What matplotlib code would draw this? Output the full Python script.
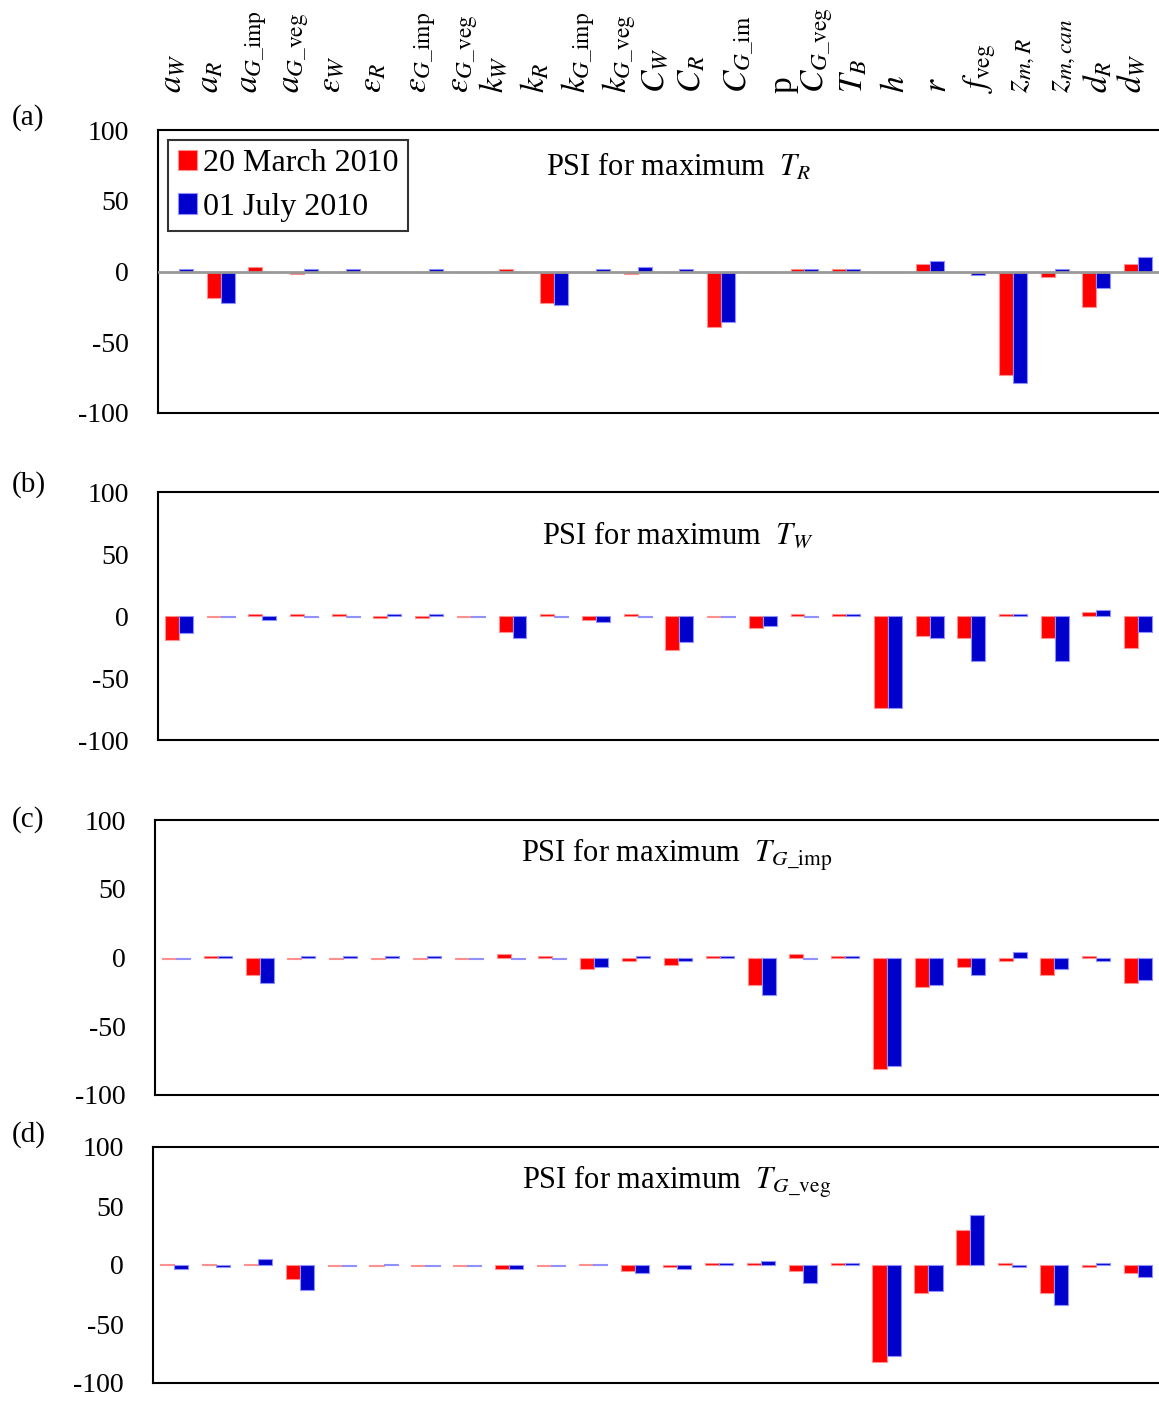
import numpy as np
import matplotlib
matplotlib.use("Agg")
import matplotlib.pyplot as plt
import matplotlib.transforms as mtransforms

plt.rcParams['font.family'] = ['Liberation Serif', 'DejaVu Serif']
plt.rcParams['mathtext.fontset'] = 'stix'
plt.rcParams['axes.unicode_minus'] = False

# parameter labels (top row)
labels = [r"$a_W$", r"$a_R$", r"$a_{G\_\mathrm{imp}}$", r"$a_{G\_\mathrm{veg}}$",
          r"$\varepsilon_W$", r"$\varepsilon_R$", r"$\varepsilon_{G\_\mathrm{imp}}$",
          r"$\varepsilon_{G\_\mathrm{veg}}$", r"$k_W$", r"$k_R$",
          r"$k_{G\_\mathrm{imp}}$", r"$k_{G\_\mathrm{veg}}$", r"$C_W$", r"$C_R$",
          "$C_{G\\_\\mathrm{im}}$\np", r"$C_{G\_\mathrm{veg}}$", r"$T_B$", r"$h$",
          r"$r$", r"$f_\mathrm{veg}$", r"$z_{m,R}$", r"$z_{m,can}$", r"$d_R$", r"$d_W$"]
# horizontal nudge of each top label (category units)
label_shift = [-0.15, -0.25, -0.2, -0.2, -0.35, -0.33, -0.15, -0.15, -0.45, -0.45,
               -0.43, -0.45, -0.58, -0.7, -0.05, 0.3, 0.2, 0.2, 0.2, 0.2, 0.2, 0.2,
               0.05, -0.15]

series_names = ["20 March 2010", "01 July 2010"]

# PSI values, panel (a) max T_R
psi_a_mar = [0, -19, 3, -2, 0, 0, 0, 0, 2, -22, 0, -2,
             0, -39, 0, 2, 2, 0, 5, 0, -73, -4, -25, 5]
psi_a_jul = [2, -22, 0, 2, 2, 0, 2, 0, 0, -24, 2, 3,
             2, -36, 0, 2, 2, 0, 7.6, -2.4, -79, 2, -12, 10]
# panel (b) max T_W
psi_b_mar = [-19.4, -1, 1.5, 1.5, 1.5, -1.5, -1.5, -1, -13, 1.5, -3, 1.5,
             -27.4, -1, -9.7, 1.5, 1.5, -74, -16, -17.7, 1.5, -17.7, 3.2, -25.8]
psi_b_jul = [-14, -1, -3, -1, -1, 1.5, 1.5, -1, -17.7, -1, -5, -1,
             -21, -1, -8, -1, 1.5, -74, -17.7, -36.6, 1.5, -36.6, 4.8, -13]
# panel (c) max T_G_imp
psi_c_mar = [-1, 1, -13, -1, -1, -1, -1, -1, 2.9, 1, -8.7, -2.9,
             -5.8, 1, -20.3, 2.9, 1, -81, -21.7, -7.2, -2.9, -13, 1, -18.8]
psi_c_jul = [-1, 1, -18.8, 1, 1, 1, 1, -1, -1, -1, -7.2, 1,
             -2.9, 1, -27.5, -1, 1, -79, -20.3, -13, 4.3, -8.7, -2.9, -16]
# panel (d) max T_G_veg
psi_d_mar = [1, 1, 1, -11.8, -1, -1, -1, -1, -3.4, -1, 1, -5,
             -1.5, 1.5, 1.5, -5.3, 1.5, -82.4, -23.9, 30, 1.5, -23.9, -1.5, -7]
psi_d_jul = [-3.4, -1.5, 5, -21.4, -1, 1, -1, -1, -3.4, -1, 1, -7,
             -3.7, 1.5, 3.4, -15.5, 1.5, -77.4, -21.9, 42, -1.5, -33.8, 1.5, -10.4]

titles = [r"PSI for maximum  $T_R$", r"PSI for maximum  $T_W$",
          r"PSI for maximum  $T_{G\_\mathrm{imp}}$", r"PSI for maximum  $T_{G\_\mathrm{veg}}$"]
letters = ["(a)", "(b)", "(c)", "(d)"]

W, H = 1159, 1401
fig = plt.figure(figsize=(W / 100, H / 100), dpi=100)

# left, top, bottom (pixels) of each panel
boxes = [(158, 130, 413), (158, 492, 740), (155, 820, 1095), (153, 1147, 1383)]
title_y = [0.869, 0.823, 0.873, 0.852]
letter_y = [118, 485, 820, 1135]
data = [(psi_a_mar, psi_a_jul), (psi_b_mar, psi_b_jul),
        (psi_c_mar, psi_c_jul), (psi_d_mar, psi_d_jul)]

red, blue = "#ff0000", "#0000cc"
x = np.arange(len(labels))
bw = 0.335

for k, (l, t, b) in enumerate(boxes):
    ax = fig.add_axes([l / W, 1 - b / H, 1 - l / W, (b - t) / H])
    mar, jul = data[k]
    ax.bar(x - bw / 2, mar, bw, color=red, edgecolor="#ff9090", linewidth=0.8,
           label=series_names[0], zorder=3)
    ax.bar(x + bw / 2, jul, bw, color=blue, edgecolor="#9090ff", linewidth=0.8,
           label=series_names[1], zorder=3)
    ax.set_xlim(-0.5, len(labels) - 0.5)
    ax.set_ylim(-100, 100)
    ax.set_yticks([-100, -50, 0, 50, 100])
    ax.set_xticks([])
    ax.tick_params(axis='y', length=0, pad=21, labelsize=20)
    for s in ["left", "top", "bottom"]:
        ax.spines[s].set_linewidth(1.5)
    ax.spines["right"].set_visible(False)
    ax.text(0.52, title_y[k], titles[k], transform=ax.transAxes, ha="center",
            va="center", fontsize=22)
    fig.text(12 / W, 1 - letter_y[k] / H, letters[k], fontsize=21, va="center")
    if k == 0:
        ax.axhline(0, color="#999999", linewidth=2, zorder=4)
        ax.legend(loc="upper left", bbox_to_anchor=(0.01, 0.965), fontsize=23,
                  frameon=True, fancybox=False, edgecolor="black",
                  handlelength=0.6, handleheight=0.6, handletextpad=0.2,
                  borderpad=0.3, labelspacing=0.45, borderaxespad=0)
        ax.get_legend().get_frame().set_linewidth(1.5)
        trans = mtransforms.blended_transform_factory(ax.transData, fig.transFigure)
        for i, lab in enumerate(labels):
            ax.text(x[i] + label_shift[i], 1 - 93 / H, lab, transform=trans,
                    rotation=90, ha="center", va="bottom", fontsize=24,
                    multialignment="left", linespacing=1.5)

fig.savefig("out.png", dpi=100)
